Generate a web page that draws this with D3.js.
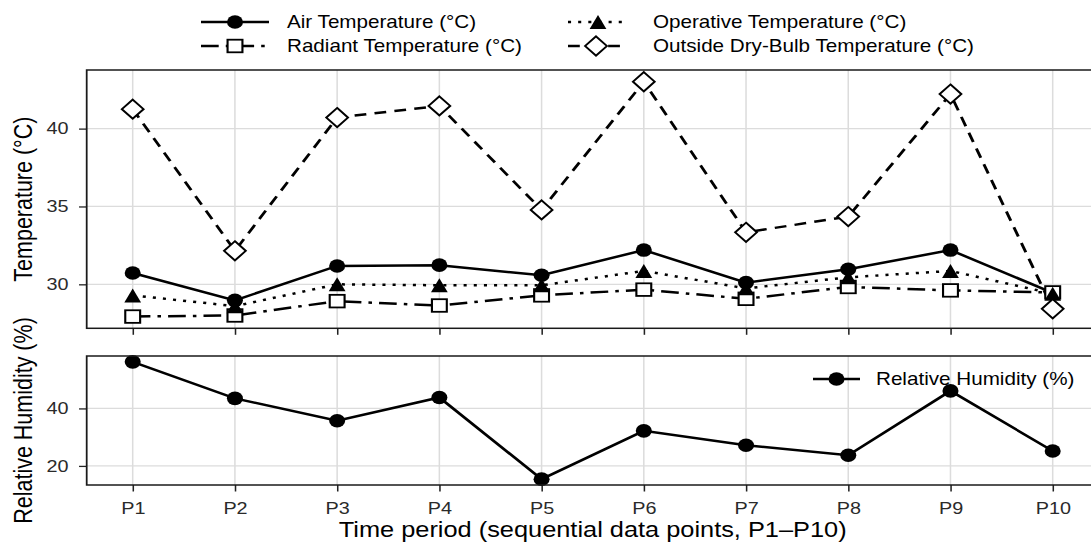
<!DOCTYPE html>
<html><head><meta charset="utf-8">
<script src="https://cdn.jsdelivr.net/npm/d3@7"></script>
<style>html,body{margin:0;padding:0;background:#fff;overflow:hidden}</style>
</head><body>
<svg id="chart"></svg>
<script>
// ---- data ----
const periods = ["P1","P2","P3","P4","P5","P6","P7","P8","P9","P10"];
const airTemp = [30.73, 28.97, 31.18, 31.23, 30.58, 32.20, 30.11, 30.97, 32.20, 29.45];
const radiantTemp = [27.93, 28.00, 28.92, 28.64, 29.29, 29.66, 29.07, 29.83, 29.61, 29.48];
const operativeTemp = [29.29, 28.60, 30.00, 29.94, 29.94, 30.86, 29.74, 30.45, 30.86, 29.40];
const outsideTemp = [41.25, 32.15, 40.71, 41.46, 34.78, 43.01, 33.34, 34.35, 42.22, 28.43];
const humidity = [56.2, 43.5, 35.7, 43.8, 15.4, 32.2, 27.2, 23.7, 46.1, 25.2];
const tempTicks = [30, 35, 40];
const humTicks = [20, 40];
const seriesNames = ["Air Temperature (°C)", "Radiant Temperature (°C)", "Operative Temperature (°C)", "Outside Dry-Bulb Temperature (°C)"];
const humName = "Relative Humidity (%)";
const yTitleTop = "Temperature (°C)";
const yTitleBottom = "Relative Humidity (%)";
const xTitle = "Time period (sequential data points, P1–P10)";

// ---- layout (horizontally stretched picture) ----
const W = 1091, H = 546, SX = 1.18;
const ux = p => p / SX;
const FONT = "'Liberation Sans', Arial, sans-serif";
const svg = d3.select("#chart").attr("width", W).attr("height", H)
  .attr("viewBox", `0 0 ${W / SX} ${H}`).attr("preserveAspectRatio", "none")
  .style("font-family", FONT);

const n = periods.length;
const idx = d3.range(1, n + 1);
const x = d3.scaleLinear().domain([1 - 0.05 * (n - 1), n + 0.05 * (n - 1)]).range([ux(86.7), ux(1098.7)]);

function expand(ext) { const r = ext[1] - ext[0]; return [ext[0] - 0.05 * r, ext[1] + 0.05 * r]; }
const tempAll = airTemp.concat(radiantTemp, operativeTemp, outsideTemp);
const yT = d3.scaleLinear().domain(expand(d3.extent(tempAll))).range([328.3, 70]);
const yH = d3.scaleLinear().domain(expand(d3.extent(humidity))).range([485, 356]);

const series = [
  { name: seriesNames[0], values: airTemp, dash: null, shape: "circle" },
  { name: seriesNames[1], values: radiantTemp, dash: "15,6,3,6", shape: "square" },
  { name: seriesNames[2], values: operativeTemp, dash: "2.6,6", shape: "triangle" },
  { name: seriesNames[3], values: outsideTemp, dash: "10,7", shape: "diamond" }
];

const LW = 2.5;
function drawShape(g, shape, cx, cy) {
  if (shape === "circle") {
    g.append("circle").attr("cx", cx).attr("cy", cy).attr("r", 6.8).attr("fill", "#000");
  } else if (shape === "square") {
    g.append("rect").attr("x", cx - 6.3).attr("y", cy - 6.3).attr("width", 12.6).attr("height", 12.6)
      .attr("fill", "#fff").attr("stroke", "#000").attr("stroke-width", 1.8);
  } else if (shape === "triangle") {
    const h = 14, s = 14.2;
    g.append("path").attr("d", `M${cx},${cy - h / 2}L${cx + s / 2},${cy + h / 2}L${cx - s / 2},${cy + h / 2}Z`).attr("fill", "#000");
  } else if (shape === "diamond") {
    const a = 9.2, b = 9.6;
    g.append("path").attr("d", `M${cx},${cy - b}L${cx + a},${cy}L${cx},${cy + b}L${cx - a},${cy}Z`)
      .attr("fill", "#fff").attr("stroke", "#000").attr("stroke-width", 1.8);
  }
}

function panel(y, ticks, top, bottom, showLabels) {
  const g = svg.append("g");
  const [x0, x1] = x.range();
  g.selectAll(".gy").data(ticks).join("line").attr("x1", x0).attr("x2", x1)
    .attr("y1", d => y(d)).attr("y2", d => y(d)).attr("stroke", "#dcdcdc").attr("stroke-width", 1.3);
  g.selectAll(".gx").data(idx).join("line").attr("x1", d => x(d)).attr("x2", d => x(d))
    .attr("y1", top).attr("y2", bottom).attr("stroke", "#dcdcdc").attr("stroke-width", 1.3);
  const ax = g.append("g").attr("transform", `translate(0,${bottom})`)
    .call(d3.axisBottom(x).tickValues(idx).tickSize(6.5).tickPadding(10.3)
      .tickFormat(showLabels ? (d => periods[d - 1]) : ""));
  ax.select(".domain").remove();
  ax.selectAll("line").attr("stroke", "#222").attr("stroke-width", 1.3);
  ax.selectAll("text").attr("font-size", 16.8).attr("fill", "#2a2a2a").attr("font-family", FONT);
  const ay = g.append("g").attr("transform", `translate(${x0},0)`)
    .call(d3.axisLeft(y).tickValues(ticks).tickSize(6.5).tickPadding(9));
  ay.select(".domain").remove();
  ay.selectAll("line").attr("stroke", "#222").attr("stroke-width", 1.3);
  ay.selectAll("text").attr("font-size", 16.8).attr("fill", "#2a2a2a").attr("font-family", FONT);
  return g;
}

// top panel
const gTop = panel(yT, tempTicks, 70, 328.3, false);
const lineT = d3.line().x((d, i) => x(i + 1)).y(d => yT(d));
series.forEach(s => {
  gTop.append("path").attr("d", lineT(s.values)).attr("fill", "none").attr("stroke", "#000")
    .attr("stroke-width", LW).attr("stroke-dasharray", s.dash);
});
series.forEach(s => {
  const gp = gTop.append("g");
  s.values.forEach((v, i) => drawShape(gp, s.shape, x(i + 1), yT(v)));
});
gTop.append("rect").attr("x", x.range()[0]).attr("y", 70).attr("width", x.range()[1] - x.range()[0]).attr("height", 328.3 - 70)
  .attr("fill", "none").attr("stroke", "#1a1a1a").attr("stroke-width", 1.5);

// bottom panel
const gBot = panel(yH, humTicks, 356, 485, true);
const lineH = d3.line().x((d, i) => x(i + 1)).y(d => yH(d));
gBot.append("path").attr("d", lineH(humidity)).attr("fill", "none").attr("stroke", "#000").attr("stroke-width", LW);
humidity.forEach((v, i) => drawShape(gBot, "circle", x(i + 1), yH(v)));
gBot.append("rect").attr("x", x.range()[0]).attr("y", 356).attr("width", x.range()[1] - x.range()[0]).attr("height", 485 - 356)
  .attr("fill", "none").attr("stroke", "#1a1a1a").attr("stroke-width", 1.5);

// humidity legend (inside)
const hl = svg.append("g");
hl.append("line").attr("x1", ux(813)).attr("x2", ux(860)).attr("y1", 379).attr("y2", 379).attr("stroke", "#000").attr("stroke-width", LW);
drawShape(hl, "circle", ux(836.5), 379);
hl.append("text").attr("x", ux(876)).attr("y", 379).attr("dy", "0.35em").attr("font-size", 17.5).attr("fill", "#000").text(humName);

// top legend
const legPos = [
  { kx0: 201, kx1: 269, kc: 235, tx: 287, y: 22 },
  { kx0: 201, kx1: 269, kc: 235, tx: 287, y: 46 },
  { kx0: 568, kx1: 628, kc: 598, tx: 653, y: 22 },
  { kx0: 568, kx1: 628, kc: 596, tx: 653, y: 46 }
];
series.forEach((s, i) => {
  const p = legPos[i];
  const lg = svg.append("g");
  lg.append("line").attr("x1", ux(p.kx0)).attr("x2", ux(p.kx1)).attr("y1", p.y).attr("y2", p.y)
    .attr("stroke", "#000").attr("stroke-width", LW).attr("stroke-dasharray", s.dash);
  drawShape(lg, s.shape, ux(p.kc), p.y);
  lg.append("text").attr("x", ux(p.tx)).attr("y", p.y).attr("dy", "0.35em").attr("font-size", 17.5).attr("fill", "#000").text(s.name);
});

// axis titles
svg.append("text").attr("transform", `translate(${ux(23)},${(70 + 328.3) / 2}) rotate(-90)`)
  .attr("text-anchor", "middle").attr("dy", "0.35em").attr("font-size", 21.5).attr("fill", "#000").text(yTitleTop);
svg.append("text").attr("transform", `translate(${ux(23)},${(356 + 485) / 2}) rotate(-90)`)
  .attr("text-anchor", "middle").attr("dy", "0.35em").attr("font-size", 21.5).attr("fill", "#000").text(yTitleBottom);
svg.append("text").attr("x", (x.range()[0] + x.range()[1]) / 2).attr("y", 537.5)
  .attr("text-anchor", "middle").attr("font-size", 21.5).attr("fill", "#000").text(xTitle);
</script>
</body></html>
